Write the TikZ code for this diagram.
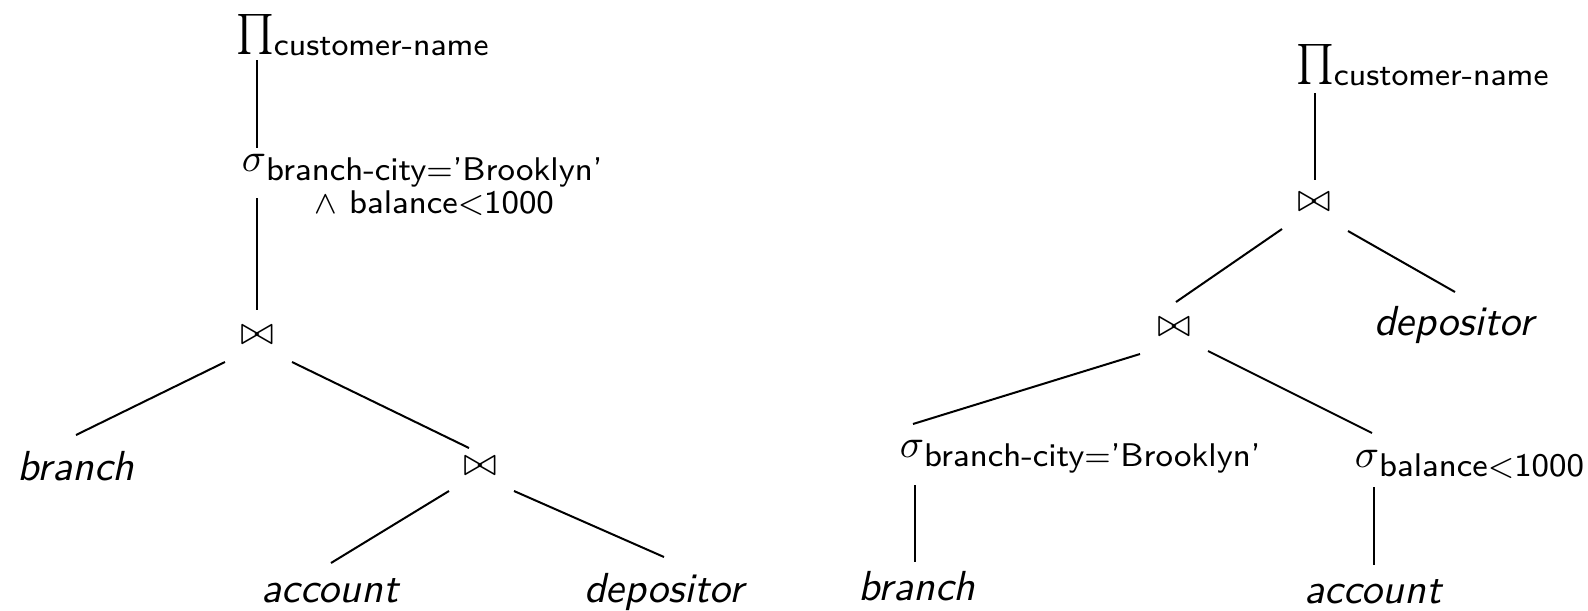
\documentclass[tikz,border=0pt]{standalone}
\usetikzlibrary{calc}
\newcommand\subfnt{\fontsize{8.2}{8.25}\selectfont\sffamily}
\newcommand\namefnt{\fontsize{10.5}{12}\selectfont\sffamily\itshape}
\newcommand\mysub[2]{\rlap{\smash{\raisebox{#1}{\subfnt #2}}}}
\newcommand\mypsub[1]{\rlap{\smash{\raisebox{-2.6pt}{\fontsize{7.95}{8.25}\selectfont\sffamily #1}}}}
\newcommand\symfnt{\fontsize{10}{12}\selectfont}
\begin{document}
\begin{tikzpicture}[x=0.25pt,y=-0.25pt,
  sym/.style={inner sep=0pt,outer sep=0pt},
  rel/.style={inner sep=0pt,outer sep=0pt,anchor=base,font=\namefnt},
  edge/.style={draw=black,line width=0.5pt}]
\useasboundingbox (0,0) rectangle (1588,611);
% ---------- left tree ----------
\node[sym] (p1) at (255,34) {\fontsize{10.5}{12}\selectfont$\textstyle\prod$\mypsub{customer-name}};
\node[sym] (s1) at (254,163) {\symfnt$\sigma$\mysub{-2.3pt}{\begin{tabular}[t]{@{}c@{}}branch-city${=}$'Brooklyn'\\$\wedge$ balance${<}$1000\end{tabular}}};
\node[sym] (j1) at (257,335) {\symfnt$\bowtie$};
\node[rel] (br1) at (76,480) {branch};
\node[sym] (j2) at (480,466) {\symfnt$\bowtie$};
\node[rel] (acc1) at (330,602) {account};
\node[rel] (dep1) at (664,602) {depositor};
\draw[edge] ($(p1)+(2,26)$) -- ($(s1)+(3,-15)$);
\draw[edge] ($(s1)+(3,35)$) -- ($(j1)+(0,-25)$);
\draw[edge] ($(j1)+(-32,27)$) -- ($(br1.base)+(0,-45)$);
\draw[edge] ($(j1)+(35,27)$) -- ($(j2)+(-11,-18)$);
\draw[edge] ($(j2)+(-31,25)$) -- ($(acc1.base)+(1,-39)$);
\draw[edge] ($(j2)+(34,25)$) -- ($(dep1.base)+(0,-45)$);
% ---------- right tree ----------
\node[sym] (p2) at (1315,64) {\fontsize{10.5}{12}\selectfont$\textstyle\prod$\mypsub{customer-name}};
\node[sym] (j3) at (1314,202) {\symfnt$\bowtie$};
\node[sym] (j4) at (1174,327) {\symfnt$\bowtie$};
\node[rel] (dep2) at (1454,335) {depositor};
\node[sym] (s2) at (912,449) {\symfnt$\sigma$\mysub{-2.3pt}{branch-city${=}$'Brooklyn'}};
\node[sym] (s3) at (1367,459) {\symfnt$\sigma$\mysub{-2.3pt}{balance${<}$1000}};
\node[rel] (br2) at (917,600) {branch};
\node[rel] (acc2) at (1373,603) {account};
\draw[edge] ($(p2)+(0,29)$) -- ($(j3)+(1,-22)$);
\draw[edge] ($(j3)+(-32,27)$) -- ($(j4)+(2,-25)$);
\draw[edge] ($(j3)+(34,29)$) -- ($(dep2.base)+(1,-43)$);
\draw[edge] ($(j4)+(-34,27)$) -- ($(s2)+(1,-25)$);
\draw[edge] ($(j4)+(34,24)$) -- ($(s3)+(5,-26)$);
\draw[edge] ($(s2)+(3,36)$) -- ($(br2.base)+(-2,-38)$);
\draw[edge] ($(s3)+(7,28)$) -- ($(acc2.base)+(1,-38)$);
\end{tikzpicture}
\end{document}
